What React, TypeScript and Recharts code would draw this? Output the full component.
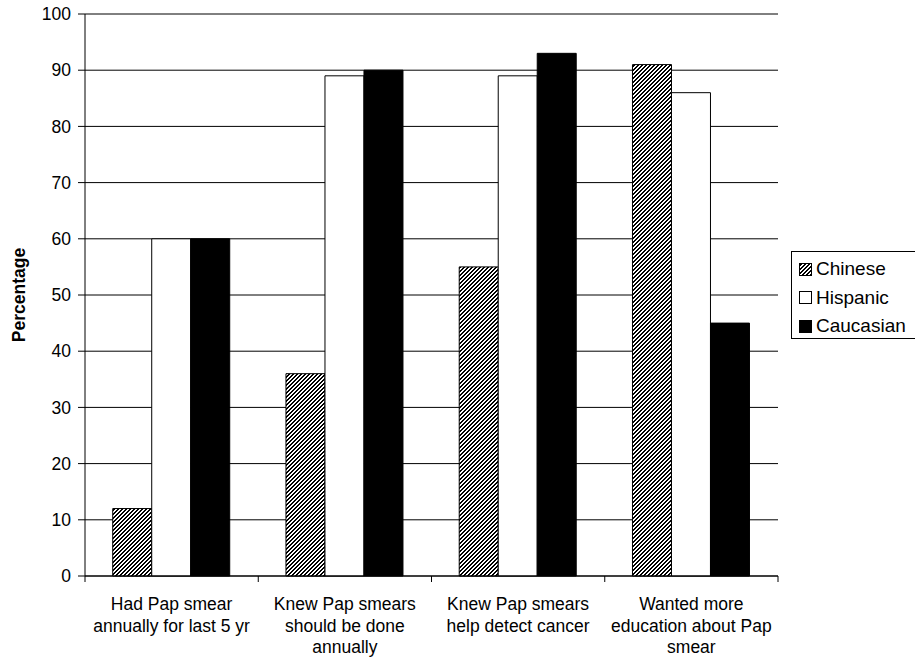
import React from "react";
import { BarChart, Bar, XAxis, YAxis, CartesianGrid, Label } from "recharts";

const categories = [
  "Had Pap smear\nannually for last 5 yr",
  "Knew Pap smears\nshould be done\nannually",
  "Knew Pap smears\nhelp detect cancer",
  "Wanted more\neducation about Pap\nsmear",
];
const chinese = [12, 36, 55, 91];
const hispanic = [60, 89, 89, 86];
const caucasian = [60, 90, 93, 45];
const yTicks = [0, 10, 20, 30, 40, 50, 60, 70, 80, 90, 100];
const seriesNames = ["Chinese", "Hispanic", "Caucasian"];

const data = categories.map((c, i) => ({
  category: c,
  Chinese: chinese[i],
  Hispanic: hispanic[i],
  Caucasian: caucasian[i],
}));

const FONT = "'Liberation Sans', Arial, sans-serif";

const CatTick = (props: any) => {
  const { x, y, payload, index } = props;
  const half = payload.offset ?? 0;
  const lines = String(payload.value).split("\n");
  const isLast = index === categories.length - 1;
  return (
    <g>
      <line x1={x - half} x2={x - half} y1={y} y2={y + 6} stroke="#000" strokeWidth={1} />
      {isLast && <line x1={x + half} x2={x + half} y1={y} y2={y + 6} stroke="#000" strokeWidth={1} />}
      <text x={x} y={y} textAnchor="middle" fontFamily={FONT} fontSize={17.5} fill="#000">
        {lines.map((l, i) => (
          <tspan key={i} x={x} y={y + 34 + i * 21.7}>
            {l}
          </tspan>
        ))}
      </text>
    </g>
  );
};

const fills: Record<string, string> = {
  Chinese: "url(#hatch)",
  Hispanic: "#fff",
  Caucasian: "#000",
};

export default function App() {
  return (
    <div
      style={{
        position: "absolute",
        left: 0,
        top: 0,
        width: 915,
        height: 658,
        overflow: "hidden",
        background: "#fff",
      }}
    >
      <svg width={0} height={0} style={{ position: "absolute" }}>
        <defs>
          <pattern id="hatch" patternUnits="userSpaceOnUse" width={4} height={4}>
            <rect x={0} y={0} width={4} height={4} fill="#fff" />
            <rect x={2} y={0} width={2} height={1} fill="#000" />
            <rect x={1} y={1} width={2} height={1} fill="#000" />
            <rect x={0} y={2} width={2} height={1} fill="#000" />
            <rect x={0} y={3} width={1} height={1} fill="#000" />
            <rect x={3} y={3} width={1} height={1} fill="#000" />
          </pattern>
        </defs>
      </svg>
      <BarChart
        width={915}
        height={658}
        data={data}
        margin={{ top: 14, right: 137, bottom: 0, left: 0 }}
        barCategoryGap="16%"
        barGap={0}
      >
        <CartesianGrid vertical={false} stroke="#000" strokeWidth={1} />
        <XAxis
          dataKey="category"
          interval={0}
          height={82}
          tickSize={0}
          tickMargin={0}
          tickLine={false}
          axisLine={{ stroke: "#000", strokeWidth: 1 }}
          tick={<CatTick />}
        />
        <YAxis
          width={85}
          domain={[0, 100]}
          ticks={yTicks}
          interval={0}
          tickSize={7}
          tickMargin={7}
          tickLine={{ stroke: "#000" }}
          axisLine={{ stroke: "#000", strokeWidth: 1 }}
          tick={{ fill: "#000", fontSize: 17.5, fontFamily: FONT }}
        >
          <Label
            content={(p: any) => {
              const vb = p.viewBox;
              const cx = vb.x + 19;
              const cy = vb.y + vb.height / 2;
              return (
                <text
                  x={cx}
                  y={cy}
                  transform={`rotate(-90 ${cx} ${cy})`}
                  textAnchor="middle"
                  dominantBaseline="central"
                  fontFamily={FONT}
                  fontWeight="bold"
                  fontSize={17.5}
                  fill="#000"
                >
                  Percentage
                </text>
              );
            }}
          />
        </YAxis>
        {seriesNames.map((s) => (
          <Bar
            key={s}
            dataKey={s}
            fill={fills[s]}
            stroke="#000"
            strokeWidth={1}
            isAnimationActive={false}
          />
        ))}
      </BarChart>
      <div
        style={{
          position: "absolute",
          left: 791,
          top: 251,
          width: 140,
          height: 88,
          border: "1px solid #000",
          boxSizing: "border-box",
          background: "#fff",
          fontFamily: FONT,
          fontSize: 19,
          color: "#000",
        }}
      >
        {seriesNames.map((s, i) => (
          <div
            key={s}
            style={{
              position: "absolute",
              left: 7,
              top: 4 + i * 28.5,
              height: 26,
              display: "flex",
              alignItems: "center",
              whiteSpace: "nowrap",
            }}
          >
            <svg width={13} height={13} style={{ marginRight: 4 }}>
              <rect x={0.5} y={0.5} width={12} height={12} fill={fills[s]} stroke="#000" strokeWidth={1} />
            </svg>
            <span>{s}</span>
          </div>
        ))}
      </div>
    </div>
  );
}
